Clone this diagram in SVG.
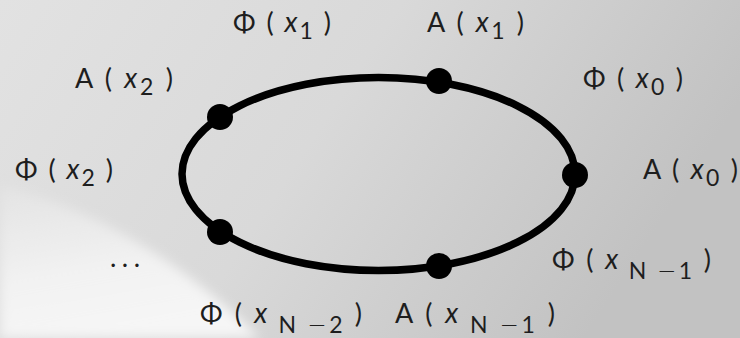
<svg xmlns="http://www.w3.org/2000/svg" width="740" height="338" viewBox="0 0 740 338">
<defs>
<linearGradient id="bg" x1="0" y1="0" x2="1" y2="0.3">
<stop offset="0" stop-color="#e2e2e2"/>
<stop offset="0.5" stop-color="#d9d9d9"/>
<stop offset="1" stop-color="#c2c2c2"/>
</linearGradient>
<linearGradient id="sw" x1="0" y1="0" x2="0.3" y2="1">
<stop offset="0" stop-color="#f4f4f4" stop-opacity="0.2"/>
<stop offset="0.6" stop-color="#f4f4f4" stop-opacity="0.9"/>
<stop offset="1" stop-color="#f6f6f6" stop-opacity="1"/>
</linearGradient>
<filter id="blur" x="-20%" y="-20%" width="140%" height="140%"><feGaussianBlur stdDeviation="6"/></filter>
<style>
.lbl{font-family:Lato,"DejaVu Sans",sans-serif;font-size:27px;fill:#1e1e1e}
.sub{font-size:23px}
.it{font-style:italic;font-size:28px}
.mn{font-family:"DejaVu Sans",sans-serif;font-weight:300}
.dot{fill:#000}
</style>
</defs>
<rect width="740" height="338" fill="url(#bg)"/>
<path d="M0,185 C80,205 170,250 260,338 L0,338 Z" fill="url(#sw)" filter="url(#blur)"/>
<g id="connectors">
<ellipse cx="378.5" cy="174" rx="196.5" ry="96.5" fill="none" stroke="#000" stroke-width="7.5"/>
</g>
<g id="node-x1"><circle class="dot" cx="439" cy="81" r="13"/></g>
<g id="node-x0"><circle class="dot" cx="575" cy="175" r="13"/></g>
<g id="node-xN1"><circle class="dot" cx="439" cy="266" r="13"/></g>
<g id="node-x2"><circle class="dot" cx="220" cy="117" r="13"/></g>
<g id="node-xN2"><circle class="dot" cx="220" cy="232" r="13"/></g>
<g id="labels">
<text class="lbl" x="233" y="32" textLength="98" lengthAdjust="spacing">Φ ( <tspan class="it">x</tspan><tspan class="sub" dy="7">1</tspan><tspan dy="-7"> )</tspan></text>
<text class="lbl" x="427" y="32" textLength="97" lengthAdjust="spacing">A ( <tspan class="it">x</tspan><tspan class="sub" dy="7">1</tspan><tspan dy="-7"> )</tspan></text>
<text class="lbl" x="75" y="88" textLength="98" lengthAdjust="spacing">A ( <tspan class="it">x</tspan><tspan class="sub" dy="7">2</tspan><tspan dy="-7"> )</tspan></text>
<text class="lbl" x="583" y="88" textLength="100" lengthAdjust="spacing">Φ ( <tspan class="it">x</tspan><tspan class="sub" dy="7">0</tspan><tspan dy="-7"> )</tspan></text>
<text class="lbl" x="15" y="179" textLength="98" lengthAdjust="spacing">Φ ( <tspan class="it">x</tspan><tspan class="sub" dy="7">2</tspan><tspan dy="-7"> )</tspan></text>
<text class="lbl" x="643" y="179" textLength="95" lengthAdjust="spacing">A ( <tspan class="it">x</tspan><tspan class="sub" dy="7">0</tspan><tspan dy="-7"> )</tspan></text>
<text class="lbl" x="110" y="267" textLength="30" lengthAdjust="spacing">. . .</text>
<text class="lbl" x="552" y="269" textLength="159" lengthAdjust="spacing">Φ ( <tspan class="it">x</tspan><tspan class="sub" dy="10"> N <tspan class="mn">−</tspan>1</tspan><tspan dy="-10"> )</tspan></text>
<text class="lbl" x="200" y="323" textLength="162" lengthAdjust="spacing">Φ ( <tspan class="it">x</tspan><tspan class="sub" dy="10"> N <tspan class="mn">−</tspan>2</tspan><tspan dy="-10"> )</tspan></text>
<text class="lbl" x="395" y="323" textLength="160" lengthAdjust="spacing">A ( <tspan class="it">x</tspan><tspan class="sub" dy="10"> N <tspan class="mn">−</tspan>1</tspan><tspan dy="-10"> )</tspan></text>
</g>
</svg>
